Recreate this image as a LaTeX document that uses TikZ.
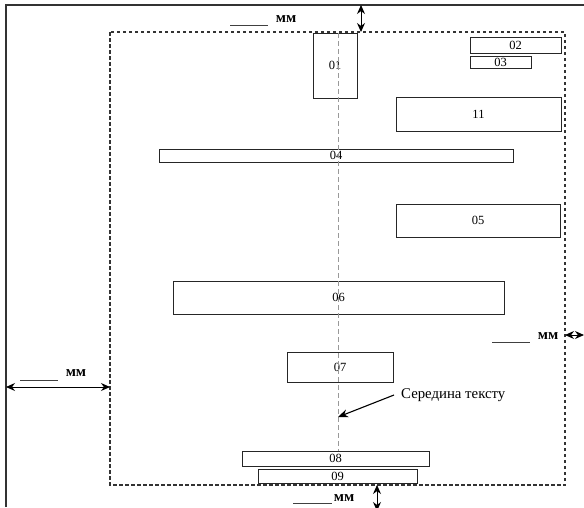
\documentclass[tikz,border=0pt]{standalone}
\usepackage{fontspec}
\setmainfont{Liberation Serif}
\usetikzlibrary{arrows.meta}
\begin{document}
\begin{tikzpicture}[x=1pt,y=-1pt,
  box/.style={draw=black!85,line width=1pt,inner sep=0pt,font=\fontsize{12.5}{13}\selectfont},
  frame/.style={draw=black!80,line width=1.3pt,dash pattern=on 3.5pt off 2.5pt},
  axis/.style={draw=black!40,line width=0.7pt,dash pattern=on 5pt off 3pt},
  dim/.style={line width=1pt,{Stealth[length=9pt,width=8pt]}-{Stealth[length=9pt,width=8pt]}},
  mm/.style={font=\bfseries\fontsize{15}{16}\selectfont,inner sep=0pt},
  blank/.style={line width=1pt,draw=black!75}]
\useasboundingbox (0,0) rectangle (584,507);
% page edges
\coordinate (pbl) at (6,507);
\coordinate (ptl) at (6,5);
\coordinate (ptr) at (584,5);
\draw[line width=1.2pt,black!80] (pbl) -- (ptl) -- (ptr);
% text frame
\coordinate (ftl) at (110,32);
\coordinate (fbr) at (565,485);
\draw[frame] (ftl) rectangle (fbr);
% boxes
\node[box,minimum width=44pt,minimum height=65pt] (b01) at (335,65.5) {01};
\node[box,minimum width=91pt,minimum height=16pt] (b02) at (515.5,45) {02};
\node[box,minimum width=61pt,minimum height=12pt] (b03) at (500.5,62) {03};
\node[box,minimum width=165pt,minimum height=34pt] (b11) at (478.5,114) {11};
\node[box,minimum width=354pt,minimum height=13pt] (b04) at (336,155.5) {04};
\node[box,minimum width=164pt,minimum height=33pt] (b05) at (478,220.5) {05};
\node[box,minimum width=331pt,minimum height=33pt] (b06) at (338.5,297.5) {06};
\node[box,minimum width=106pt,minimum height=30pt] (b07) at (340,367) {07};
\node[box,minimum width=187pt,minimum height=15pt] (b08) at (335.5,458.5) {08};
\node[box,minimum width=159pt,minimum height=14pt] (b09) at (337.5,476) {09};
% centre line
\coordinate (ctop) at (338,33);
\coordinate (cbot) at (338,451);
\draw[axis] (ctop) -- (cbot);
% centre label
\node[anchor=west,inner sep=0pt,font=\fontsize{14.8}{16}\selectfont] (lbl) at (401,395) {Середина тексту};
\coordinate (atip) at (338,417);
\draw[line width=1.1pt,-{Stealth[length=10pt,width=8pt]}] (lbl.west) ++(-7,0) -- (atip);
% dimension arrows
\coordinate (dt1) at (361,5);   \coordinate (dt2) at (361,32);
\draw[dim] (dt1) -- (dt2);
\coordinate (dr1) at (565,335); \coordinate (dr2) at (584,335);
\draw[dim] (dr1) -- (dr2);
\coordinate (dl1) at (6,387);   \coordinate (dl2) at (110,387);
\draw[dim] (dl1) -- (dl2);
\coordinate (db1) at (377,485); \coordinate (db2) at (377,511);
\draw[dim] (db1) -- (db2);
% mm labels
\node[mm] (mmt) at (286,19) {мм};
\coordinate (ut1) at (230,25); \coordinate (ut2) at (268,25);
\draw[blank] (ut1) -- (ut2);
\node[mm] (mmr) at (548,336) {мм};
\coordinate (ur1) at (492,342); \coordinate (ur2) at (530,342);
\draw[blank] (ur1) -- (ur2);
\node[mm] (mml) at (76,373) {мм};
\coordinate (ul1) at (20,380); \coordinate (ul2) at (58,380);
\draw[blank] (ul1) -- (ul2);
\node[mm] (mmb) at (344,498) {мм};
\coordinate (ub1) at (293,503); \coordinate (ub2) at (332,503);
\draw[blank] (ub1) -- (ub2);
\end{tikzpicture}
\end{document}
